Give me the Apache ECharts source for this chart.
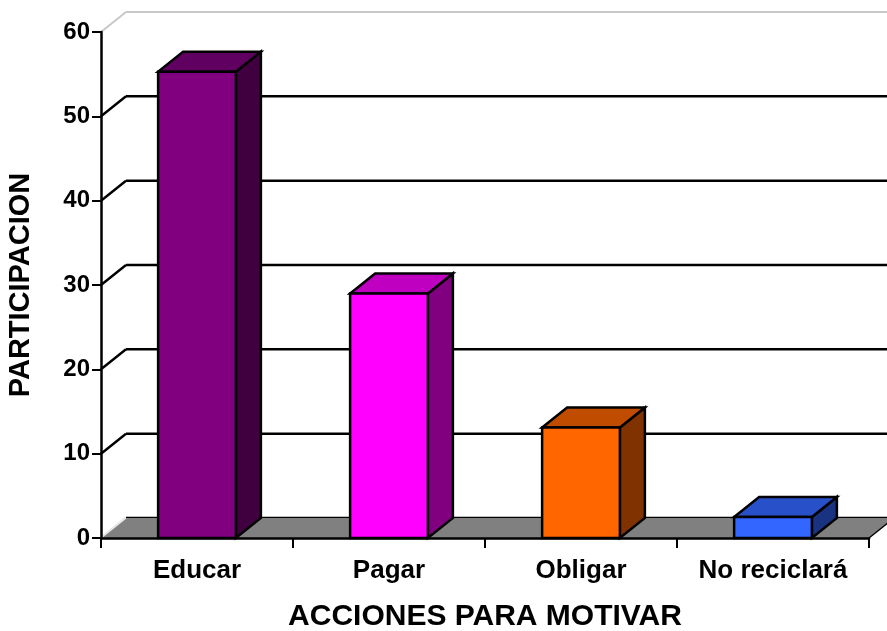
<!DOCTYPE html>
<html>
<head>
<meta charset="utf-8">
<script src="https://cdn.jsdelivr.net/npm/echarts@6/dist/echarts.min.js"></script>
<style>html,body{margin:0;padding:0;background:#fff}#c{width:887px;height:631px}</style>
</head>
<body>
<div id="c"></div>
<script>
const categories = ['Educar', 'Pagar', 'Obligar', 'No reciclará'];
const values = [55.3, 29, 13.1, 2.5];
const yTicks = [0, 10, 20, 30, 40, 50, 60];

const frontColors = ['#800080', '#FF00FF', '#FF6600', '#3366FF'];
const topColors = ['#600060', '#C000C0', '#C04C00', '#2850C8'];
const sideColors = ['#400040', '#800080', '#803300', '#1A3380'];

const DX = 25, DY = -20;
const FONT = "'Liberation Sans', Arial, sans-serif";

const chart = echarts.init(document.getElementById('c'));
chart.setOption({
  animation: false,
  backgroundColor: '#fff',
  grid: { left: 101, right: 18, top: 32, bottom: 93, containLabel: false, outerBoundsMode: 'none' },
  xAxis: {
    type: 'category', data: categories, boundaryGap: true, z: 10,
    axisLine: { lineStyle: { color: '#000', width: 2.5 } },
    axisTick: { show: true, interval: 0, length: 10, alignWithLabel: false, lineStyle: { color: '#000', width: 2 } },
    axisLabel: { interval: 0, hideOverlap: false, fontSize: 26, fontWeight: 'bold', color: '#000', margin: 20, fontFamily: FONT },
    name: 'ACCIONES PARA MOTIVAR', nameLocation: 'middle', nameGap: 64,
    nameTextStyle: { fontSize: 30, fontWeight: 'bold', color: '#000', fontFamily: FONT }
  },
  yAxis: {
    type: 'value', min: 0, max: 60, interval: 10, z: 10,
    axisLine: { show: true, lineStyle: { color: '#000', width: 2.5 } },
    axisTick: { show: true, length: 9, lineStyle: { color: '#000', width: 2 } },
    splitLine: { show: false },
    axisLabel: { fontSize: 24, fontWeight: 'bold', color: '#000', margin: 11, fontFamily: FONT },
    name: 'PARTICIPACION', nameLocation: 'middle', nameGap: 66,
    nameTextStyle: { fontSize: 29, fontWeight: 'bold', color: '#000', fontFamily: FONT }
  },
  series: [
    {
      type: 'custom', z: 1, silent: true,
      data: yTicks.map(v => [0, v]),
      encode: { x: 0, y: 1 },
      renderItem: function (params, api) {
        const cs = params.coordSys;
        const v = api.value(1);
        const y = api.coord([0, v])[1];
        const x0 = cs.x, x1 = cs.x + cs.width;
        const isTop = v === yTicks[yTicks.length - 1];
        const isBottom = v === yTicks[0];
        const col = isTop ? '#c8c8c8' : '#000';
        return {
          type: 'group',
          children: [
            { type: 'line', shape: { x1: x0 + DX, y1: y + DY, x2: x1 + DX, y2: y + DY }, style: { stroke: col, lineWidth: isTop ? 2 : 2.5 } },
            { type: 'line', shape: { x1: x0, y1: y, x2: x0 + DX, y2: y + DY }, style: { stroke: isBottom ? '#e0e0e0' : col, lineWidth: isTop ? 2 : 2.5 } }
          ]
        };
      }
    },
    {
      type: 'custom', z: 2, silent: true,
      data: [[0, 0]],
      encode: { x: 0, y: 1 },
      renderItem: function (params, api) {
        const cs = params.coordSys;
        const yb = api.coord([0, 0])[1];
        const x0 = cs.x, x1 = cs.x + cs.width;
        return {
          type: 'group',
          children: [
            { type: 'polygon', shape: { points: [[x0, yb], [x1, yb], [x1 + DX, yb + DY], [x0 + DX, yb + DY]] }, style: { fill: '#808080' } },
            { type: 'line', shape: { x1: x0, y1: yb, x2: x0 + DX, y2: yb + DY }, style: { stroke: '#e8e8e8', lineWidth: 1.5 } },
            { type: 'line', shape: { x1: x1, y1: yb, x2: x1 + DX, y2: yb + DY }, style: { stroke: '#000', lineWidth: 1.5 } }
          ]
        };
      }
    },
    {
      type: 'custom', z: 3,
      data: values.map((v, i) => [i, v]),
      encode: { x: 0, y: 1 },
      renderItem: function (params, api) {
        const i = api.value(0);
        const top = api.coord([i, api.value(1)]);
        const base = api.coord([i, 0]);
        const bw = api.size([1, 0])[0] * 0.405;
        const xl = top[0] - bw / 2, xr = top[0] + bw / 2;
        const yt = top[1], yb = base[1];
        const st = { stroke: '#000', lineWidth: 2.5, lineJoin: 'miter' };
        return {
          type: 'group',
          children: [
            { type: 'polygon', shape: { points: [[xr, yt], [xr + DX, yt + DY], [xr + DX, yb + DY], [xr, yb]] }, style: Object.assign({ fill: sideColors[i] }, st) },
            { type: 'polygon', shape: { points: [[xl, yt], [xr, yt], [xr + DX, yt + DY], [xl + DX, yt + DY]] }, style: Object.assign({ fill: topColors[i] }, st) },
            { type: 'rect', shape: { x: xl, y: yt, width: bw, height: yb - yt }, style: Object.assign({ fill: frontColors[i] }, st) }
          ]
        };
      }
    }
  ]
});
</script>
</body>
</html>
